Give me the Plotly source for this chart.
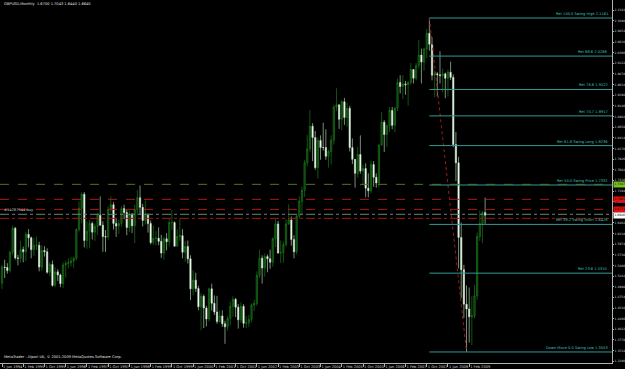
import plotly.graph_objects as go

# ---------------- data (GBPUSD monthly, Jun 1994 .. Aug 2009) ----------------
opens = [
    1.5080, 1.5450, 1.5440, 1.5370, 1.5790, 1.6340, 1.5660,
    1.5650, 1.5850, 1.5800, 1.6200, 1.6120, 1.5850, 1.5950, 1.5950, 1.5450, 1.5830, 1.5800, 1.5330,
    1.5510, 1.5030, 1.5340, 1.5270, 1.5070, 1.5500, 1.5530, 1.5550, 1.5590, 1.5650, 1.6310, 1.6800,
    1.7120, 1.6060, 1.6270, 1.6450, 1.6250, 1.6380, 1.6640, 1.6410, 1.6150, 1.6140, 1.6770, 1.6880,
    1.6450, 1.6390, 1.6450, 1.6790, 1.6700, 1.6360, 1.6650, 1.6400, 1.6770, 1.7040, 1.6820, 1.6520,
    1.6640, 1.6450, 1.6010, 1.6110, 1.6110, 1.6040, 1.5770, 1.6100, 1.6030, 1.6470, 1.6470, 1.5930,
    1.6150, 1.6170, 1.5790, 1.5920, 1.5640, 1.4950, 1.5150, 1.4960, 1.4540, 1.4780, 1.4510, 1.4260,
    1.4950, 1.4620, 1.4420, 1.4200, 1.4330, 1.4150, 1.4080, 1.4270, 1.4550, 1.4710, 1.4530, 1.4240,
    1.4550, 1.4160, 1.4170, 1.4250, 1.4580, 1.4620, 1.5260, 1.5650, 1.5430, 1.5690, 1.5640, 1.5560,
    1.6100, 1.6440, 1.5770, 1.5780, 1.5970, 1.6440, 1.6530, 1.6080, 1.5800, 1.6620, 1.6960, 1.7210,
    1.7840, 1.8160, 1.8680, 1.8420, 1.7730, 1.8350, 1.8190, 1.8190, 1.7990, 1.8100, 1.8360, 1.9120,
    1.9170, 1.8840, 1.9240, 1.8880, 1.9090, 1.8190, 1.7920, 1.7600, 1.8030, 1.7650, 1.7710, 1.7260,
    1.7200, 1.7800, 1.7510, 1.7380, 1.8250, 1.8770, 1.8490, 1.8690, 1.9040, 1.8700, 1.9090, 1.9680,
    1.9590, 1.9650, 1.9630, 1.9680, 1.9980, 1.9780, 2.0070, 2.0310, 2.0150, 2.0450, 2.0810, 2.0560,
    1.9850, 1.9880, 1.9860, 1.9840, 1.9880, 1.9780, 1.9920, 1.9800, 1.8260, 1.7840, 1.6130, 1.5390,
    1.4600, 1.4490, 1.4310, 1.4330, 1.4790, 1.6150, 1.6450, 1.6700,
]
highs = [
    1.5500, 1.5620, 1.5540, 1.5820, 1.6400, 1.6370, 1.5730,
    1.6050, 1.5920, 1.6260, 1.6320, 1.6150, 1.6120, 1.6150, 1.6030, 1.5950, 1.5930, 1.5880, 1.5560,
    1.5600, 1.5450, 1.5400, 1.5300, 1.5560, 1.5600, 1.5650, 1.5680, 1.5690, 1.6340, 1.6950, 1.7160,
    1.7170, 1.6500, 1.6530, 1.6490, 1.6450, 1.6690, 1.7070, 1.6500, 1.6300, 1.6840, 1.7070, 1.6940,
    1.6580, 1.6540, 1.6850, 1.6880, 1.6760, 1.6750, 1.6690, 1.6880, 1.7220, 1.7320, 1.6900, 1.6970,
    1.6680, 1.6520, 1.6400, 1.6280, 1.6360, 1.6190, 1.6140, 1.6230, 1.6550, 1.6760, 1.6500, 1.6310,
    1.6570, 1.6320, 1.6050, 1.6060, 1.5720, 1.5380, 1.5320, 1.5020, 1.4850, 1.4820, 1.4560, 1.4980,
    1.5070, 1.4800, 1.4790, 1.4460, 1.4460, 1.4220, 1.4330, 1.4660, 1.4780, 1.4740, 1.4600, 1.4640,
    1.4600, 1.4330, 1.4350, 1.4620, 1.4700, 1.5350, 1.5850, 1.5720, 1.5760, 1.5740, 1.5850, 1.6130,
    1.6560, 1.6510, 1.6060, 1.6040, 1.6550, 1.6890, 1.6610, 1.6180, 1.6650, 1.7070, 1.7290, 1.7910,
    1.8480, 1.9050, 1.8750, 1.8570, 1.8420, 1.8470, 1.8760, 1.8610, 1.8140, 1.8470, 1.9170, 1.9550,
    1.9180, 1.9270, 1.9330, 1.9220, 1.9150, 1.8400, 1.7920, 1.8210, 1.8470, 1.7800, 1.7830, 1.7600,
    1.7890, 1.7880, 1.7600, 1.8260, 1.9000, 1.8820, 1.8720, 1.9120, 1.9120, 1.9120, 1.9780, 1.9850,
    1.9850, 1.9720, 1.9720, 2.0130, 1.9990, 2.0130, 2.0660, 2.0460, 2.0480, 2.0910, 2.1161, 2.0720,
    1.9960, 1.9920, 2.0400, 2.0000, 1.9910, 1.9980, 2.0160, 1.9870, 1.8550, 1.7980, 1.6470, 1.5500,
    1.5030, 1.4980, 1.4780, 1.5040, 1.6240, 1.6745, 1.6740, 1.7043,
]
lows = [
    1.4950, 1.5200, 1.5300, 1.5320, 1.5720, 1.5620, 1.5490,
    1.5550, 1.5560, 1.5590, 1.5900, 1.5650, 1.5700, 1.5840, 1.5350, 1.5360, 1.5690, 1.5300, 1.5240,
    1.5000, 1.5000, 1.5130, 1.4990, 1.4970, 1.5210, 1.5420, 1.5460, 1.5430, 1.5600, 1.6260, 1.6450,
    1.5900, 1.5870, 1.5880, 1.6080, 1.6050, 1.6180, 1.6400, 1.5800, 1.5800, 1.6080, 1.6700, 1.6310,
    1.6140, 1.6210, 1.6380, 1.6550, 1.6180, 1.6250, 1.6230, 1.6000, 1.6640, 1.6650, 1.6380, 1.6420,
    1.6240, 1.5970, 1.5960, 1.5950, 1.5950, 1.5660, 1.5620, 1.5830, 1.5920, 1.6300, 1.5920, 1.5920,
    1.6050, 1.5650, 1.5570, 1.5530, 1.4690, 1.4800, 1.4880, 1.4460, 1.4000, 1.4050, 1.4090, 1.4200,
    1.4450, 1.4350, 1.4150, 1.4170, 1.4080, 1.3690, 1.3990, 1.4110, 1.4310, 1.4300, 1.4040, 1.4170,
    1.4060, 1.4050, 1.4070, 1.4180, 1.4440, 1.4560, 1.5200, 1.5070, 1.5230, 1.5330, 1.5410, 1.5460,
    1.5910, 1.5760, 1.5540, 1.5550, 1.5920, 1.6420, 1.5940, 1.5650, 1.5740, 1.6560, 1.6640, 1.7060,
    1.7760, 1.8090, 1.7880, 1.7680, 1.7480, 1.7910, 1.8120, 1.7910, 1.7730, 1.7800, 1.8260, 1.9030,
    1.8620, 1.8590, 1.8710, 1.8670, 1.8100, 1.7810, 1.7270, 1.7500, 1.7590, 1.7330, 1.7050, 1.7050,
    1.7140, 1.7290, 1.7270, 1.7280, 1.8230, 1.8090, 1.8210, 1.8550, 1.8610, 1.8540, 1.9030, 1.9430,
    1.9300, 1.9400, 1.9150, 1.9630, 1.9660, 1.9730, 2.0000, 1.9660, 1.9950, 2.0240, 2.0410, 1.9730,
    1.9340, 1.9360, 1.9660, 1.9460, 1.9320, 1.9360, 1.9740, 1.8200, 1.7420, 1.5420, 1.4740, 1.4280,
    1.3503, 1.3720, 1.3660, 1.4280, 1.4700, 1.6050, 1.6000, 1.6440,
]
closes = [
    1.5450, 1.5440, 1.5370, 1.5790, 1.6340, 1.5660, 1.5650,
    1.5850, 1.5800, 1.6200, 1.6120, 1.5850, 1.5950, 1.5950, 1.5450, 1.5830, 1.5800, 1.5330, 1.5510,
    1.5030, 1.5340, 1.5270, 1.5070, 1.5500, 1.5530, 1.5550, 1.5590, 1.5650, 1.6310, 1.6800, 1.7120,
    1.6060, 1.6270, 1.6450, 1.6250, 1.6380, 1.6640, 1.6410, 1.6150, 1.6140, 1.6770, 1.6880, 1.6450,
    1.6390, 1.6450, 1.6790, 1.6700, 1.6360, 1.6650, 1.6400, 1.6770, 1.7040, 1.6820, 1.6520, 1.6640,
    1.6450, 1.6010, 1.6110, 1.6110, 1.6040, 1.5770, 1.6100, 1.6030, 1.6470, 1.6470, 1.5930, 1.6150,
    1.6170, 1.5790, 1.5920, 1.5640, 1.4950, 1.5150, 1.4960, 1.4540, 1.4780, 1.4510, 1.4260, 1.4950,
    1.4620, 1.4420, 1.4200, 1.4330, 1.4150, 1.4080, 1.4270, 1.4550, 1.4710, 1.4530, 1.4240, 1.4550,
    1.4160, 1.4170, 1.4250, 1.4580, 1.4620, 1.5260, 1.5650, 1.5430, 1.5690, 1.5640, 1.5560, 1.6100,
    1.6440, 1.5770, 1.5780, 1.5970, 1.6440, 1.6530, 1.6080, 1.5800, 1.6620, 1.6960, 1.7210, 1.7840,
    1.8160, 1.8680, 1.8420, 1.7730, 1.8350, 1.8190, 1.8190, 1.7990, 1.8100, 1.8360, 1.9120, 1.9170,
    1.8840, 1.9240, 1.8880, 1.9090, 1.8190, 1.7920, 1.7600, 1.8030, 1.7650, 1.7710, 1.7260, 1.7200,
    1.7800, 1.7510, 1.7380, 1.8250, 1.8770, 1.8490, 1.8690, 1.9040, 1.8700, 1.9090, 1.9680, 1.9590,
    1.9650, 1.9630, 1.9680, 1.9980, 1.9780, 2.0070, 2.0310, 2.0150, 2.0450, 2.0810, 2.0560, 1.9850,
    1.9880, 1.9860, 1.9840, 1.9880, 1.9780, 1.9920, 1.9800, 1.8260, 1.7840, 1.6130, 1.5390, 1.4600,
    1.4490, 1.4310, 1.4330, 1.4790, 1.6150, 1.6450, 1.6700, 1.6640,
]

# x-axis date ticks (bar index -> label)
date_tick_index = [0, 8, 16, 24, 32, 40, 48, 56, 64, 72, 80, 88, 96, 104, 112, 120,
                   128, 136, 144, 152, 160, 168, 176]
date_tick_labels = ["1 Jun 1994", "1 Feb 1995", "1 Oct 1995", "1 Jun 1996", "1 Feb 1997",
                    "1 Oct 1997", "1 Jun 1998", "1 Feb 1999", "1 Oct 1999", "1 Jun 2000",
                    "1 Feb 2001", "1 Oct 2001", "1 Jun 2002", "1 Feb 2003", "1 Oct 2003",
                    "1 Jun 2004", "1 Feb 2005", "1 Oct 2005", "1 Jun 2006", "1 Feb 2007",
                    "1 Oct 2007", "1 Jun 2008", "1 Feb 2009"]

# price axis ticks
price_ticks = [1.3290, 1.3534, 1.3778, 1.4022, 1.4266, 1.4510, 1.4754, 1.4998, 1.5242,
               1.5486, 1.5730, 1.5974, 1.6218, 1.6462, 1.6706, 1.6950, 1.7194, 1.7438,
               1.7682, 1.7926, 1.8170, 1.8414, 1.8658, 1.8902, 1.9146, 1.9390, 1.9634,
               1.9878, 2.0122, 2.0366, 2.0610, 2.0854, 2.1098, 2.1342]

# Fibonacci retracement (swing high Nov 2007 -> swing low Jan 2009)
swing_high_index = 161
swing_low_index = 175
swing_high = 2.1161
swing_low = 1.3503
fib_ratios = [1.000, 0.886, 0.786, 0.707, 0.618, 0.500, 0.382, 0.236, 0.000]
fib_names = ["Ret 100.0 Swing High", "Ret 88.6", "Ret 78.6", "Ret 70.7",
             "Ret 61.8 Swing Long", "Ret 50.0 Swing Price", "Ret 38.2 Swing Short",
             "Ret 23.6", "Down Move 0.0 Swing Low"]

# other horizontal price lines
hline_olive = 1.7347
hline_red = [1.7003, 1.6773]
order_line = 1.6660
stop_line = 1.6567
bid_price = 1.6640
order_label = "#14287544 buy"
header = "GBPUSD,Monthly  1.6700 1.7043 1.6440 1.6640"
footer = "MetaTrader - Alpari UK, \u00a9 2001-2009 MetaQuotes Software Corp."

# ---------------- figure ----------------
x_range = [-0.754, 229.8]
y_range = [1.3250, 2.1574]
FS = 3.6
FS_AX = 3.0
FONT = "DejaVu Sans"

bars = list(range(len(opens)))
fig = go.Figure()
fig.add_trace(go.Candlestick(
    x=bars, open=opens, high=highs, low=lows, close=closes,
    increasing=dict(line=dict(color="#1c8a1c", width=0.6), fillcolor="#0a300a"),
    decreasing=dict(line=dict(color="#c8ecc8", width=0.6), fillcolor="#ffffff"),
    whiskerwidth=0, hoverinfo="skip", showlegend=False,
))

# diagonal fib base line
fig.add_trace(go.Scatter(
    x=[swing_high_index, swing_low_index], y=[swing_high, swing_low], mode="lines",
    line=dict(color="#a01c1c", width=1, dash="dot"), hoverinfo="skip", showlegend=False))

shapes = []
annotations = []
for r, name in zip(fib_ratios, fib_names):
    lvl = swing_low + r * (swing_high - swing_low)
    shapes.append(dict(type="line", xref="x", yref="y", x0=swing_high_index, x1=x_range[1],
                       y0=lvl, y1=lvl, line=dict(color="#2f9a96", width=1)))
    annotations.append(dict(xref="paper", yref="y", x=0.997, y=lvl, xanchor="right",
                            yanchor="bottom", yshift=0, showarrow=False,
                            text=f"{name} {lvl:.4f}",
                            font=dict(size=FS, color="#3fc0bc", family=FONT)))

shapes.append(dict(type="line", xref="paper", yref="y", x0=0, x1=1, y0=hline_olive, y1=hline_olive,
                   line=dict(color="#55702e", width=1, dash="dash")))
for v in hline_red:
    shapes.append(dict(type="line", xref="paper", yref="y", x0=0, x1=1, y0=v, y1=v,
                       line=dict(color="#b01818", width=1, dash="dash")))
shapes.append(dict(type="line", xref="paper", yref="y", x0=0, x1=1, y0=order_line, y1=order_line,
                   line=dict(color="#5f8a72", width=1, dash="dashdot")))
shapes.append(dict(type="line", xref="paper", yref="y", x0=0, x1=1, y0=stop_line, y1=stop_line,
                   line=dict(color="#a01818", width=1, dash="dashdot")))

annotations.append(dict(xref="paper", yref="y", x=0.004, y=order_line, xanchor="left",
                        yanchor="bottom", showarrow=False, text=order_label,
                        font=dict(size=FS, color="#c8c8c8", family=FONT)))

# price boxes on right axis
for v, bg, fc in [(hline_olive, "#78c020", "#000000"), (hline_red[0], "#e01010", "#000000"),
                  (hline_red[1], "#e01010", "#000000"), (bid_price, "#ffffff", "#000000")]:
    annotations.append(dict(xref="paper", yref="y", x=1.0, y=v, xanchor="left", yanchor="middle",
                            xshift=0.5, showarrow=False, text=f"{v:.4f}", bgcolor=bg, borderpad=0.4,
                            font=dict(size=FS_AX, color=fc, family=FONT)))

annotations.append(dict(xref="paper", yref="paper", x=0.004, y=0.999, xanchor="left", yanchor="top",
                        showarrow=False, text=header,
                        font=dict(size=FS, color="#e0e0e0", family=FONT)))
annotations.append(dict(xref="paper", yref="paper", x=0.004, y=0.006, xanchor="left", yanchor="bottom",
                        showarrow=False, text=footer,
                        font=dict(size=FS, color="#e0e0e0", family=FONT)))

fig.update_layout(
    width=625, height=369,
    margin=dict(l=0, r=13, t=0, b=6),
    paper_bgcolor="#000000", plot_bgcolor="#000000",
    shapes=shapes, annotations=annotations,
    xaxis=dict(range=x_range, rangeslider=dict(visible=False), showgrid=False, zeroline=False,
               automargin=False, tickangle=0,
               tickmode="array", tickvals=date_tick_index, ticktext=date_tick_labels,
               ticks="outside", ticklen=3, tickcolor="#b0b0b0", tickwidth=1,
               ticklabelposition="outside right",
               tickfont=dict(size=FS, color="#d0d0d0", family=FONT),
               showline=True, linecolor="#b0b0b0", linewidth=1),
    yaxis=dict(range=y_range, side="right", showgrid=False, zeroline=False, automargin=False,
               tickmode="array", tickvals=price_ticks, ticktext=[f"{v:.4f}" for v in price_ticks],
               ticks="outside", ticklen=1, tickcolor="#b0b0b0",
               tickfont=dict(size=FS_AX, color="#d0d0d0", family=FONT),
               showline=True, linecolor="#b0b0b0", linewidth=1),
)

fig.write_html("out.html")
